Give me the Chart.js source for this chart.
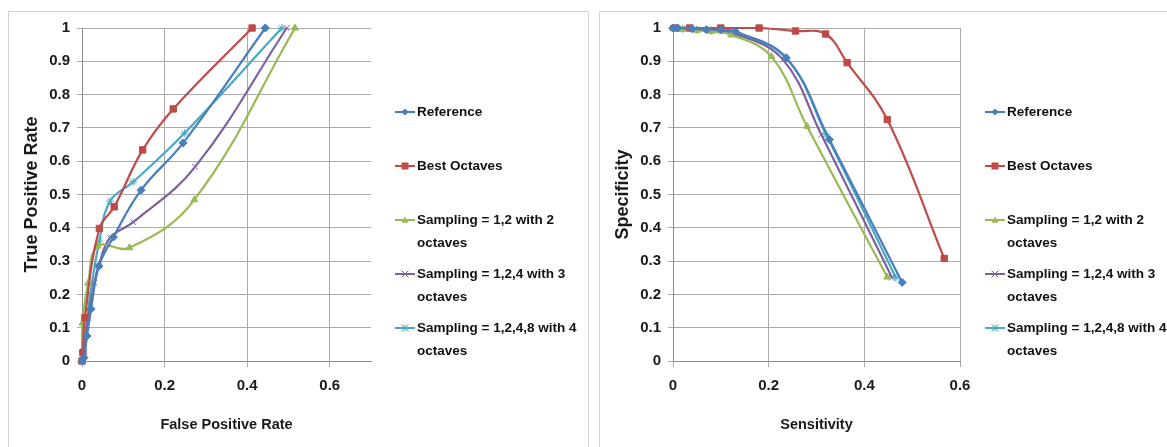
<!DOCTYPE html>
<html><head><meta charset="utf-8">
<script src="https://cdn.jsdelivr.net/npm/chart.js@4"></script>
<style>
html,body{margin:0;padding:0;background:#fff;width:1167px;height:447px;overflow:hidden;}
.box{position:absolute;box-sizing:border-box;border:1px solid #d4d4d4;background:#fff;}
canvas{position:absolute;}
</style></head><body>
<div class="box" style="left:8px;top:11px;width:581px;height:460px;"></div>
<div class="box" style="left:599px;top:11px;width:600px;height:460px;"></div>
<canvas id="c1" width="580" height="436" style="left:8px;top:11px"></canvas>
<canvas id="c2" width="568" height="436" style="left:599px;top:11px"></canvas>
<script>
// ---------- data ----------
const seriesNames = ['Reference', 'Best Octaves', 'Sampling = 1,2 with 2 octaves', 'Sampling = 1,2,4 with 3 octaves', 'Sampling = 1,2,4,8 with 4 octaves'];
const seriesColors = ['#4A7EBB', '#BE4B48', '#98B954', '#7D60A0', '#46AAC5'];
const seriesMarkers = ['rectRot', 'rect', 'triangle', 'crossRot', 'star'];

// Left chart: ROC (False Positive Rate vs True Positive Rate)
const rocRefFPR   = [0, 0.005, 0.012, 0.022, 0.041, 0.076, 0.143, 0.245, 0.444];
const rocRefTPR   = [0, 0.01, 0.075, 0.156, 0.285, 0.372, 0.513, 0.655, 1.0];
const rocBestFPR  = [0, 0.002, 0.007, 0.042, 0.078, 0.147, 0.221, 0.412];
const rocBestTPR  = [0, 0.025, 0.13, 0.398, 0.463, 0.634, 0.757, 1.0];
const rocS2FPR    = [0, 0.001, 0.015, 0.038, 0.115, 0.272, 0.516];
const rocS2TPR    = [0, 0.114, 0.234, 0.345, 0.34, 0.484, 1.0];
const rocS3FPR    = [0, 0.005, 0.015, 0.03, 0.04, 0.068, 0.124, 0.274, 0.496];
const rocS3TPR    = [0, 0.03, 0.13, 0.235, 0.285, 0.37, 0.417, 0.583, 1.0];
const rocS4FPR    = [0, 0.003, 0.01, 0.02, 0.042, 0.068, 0.124, 0.248, 0.484];
const rocS4TPR    = [0, 0.03, 0.1, 0.2, 0.36, 0.48, 0.538, 0.684, 1.0];
const rocXTicks   = [0, 0.2, 0.4, 0.6];
const rocYTicks   = [0, 0.1, 0.2, 0.3, 0.4, 0.5, 0.6, 0.7, 0.8, 0.9, 1];

// Right chart: Sensitivity vs Specificity
const ssRefSens  = [0, 0.01, 0.04, 0.07, 0.1, 0.13, 0.237, 0.327, 0.479];
const ssRefSpec  = [1, 1, 0.998, 0.995, 0.995, 0.99, 0.91, 0.665, 0.236];
const ssBestSens = [0.004, 0.035, 0.1, 0.18, 0.256, 0.319, 0.364, 0.448, 0.567];
const ssBestSpec = [1, 1, 1, 1, 0.991, 0.982, 0.896, 0.725, 0.308];
const ssS2Sens   = [0, 0.02, 0.05, 0.08, 0.123, 0.206, 0.28, 0.448];
const ssS2Spec   = [1, 0.995, 0.993, 0.99, 0.979, 0.914, 0.705, 0.252];
const ssS3Sens   = [0, 0.02, 0.06, 0.1, 0.13, 0.23, 0.31, 0.458];
const ssS3Spec   = [1, 0.998, 0.995, 0.99, 0.985, 0.905, 0.68, 0.25];
const ssS4Sens   = [0, 0.02, 0.05, 0.08, 0.12, 0.235, 0.32, 0.466];
const ssS4Spec   = [1, 0.998, 0.995, 0.992, 0.985, 0.912, 0.68, 0.25];
const ssXTicks   = [0, 0.2, 0.4, 0.6];
const ssYTicks   = [0, 0.1, 0.2, 0.3, 0.4, 0.5, 0.6, 0.7, 0.8, 0.9, 1];

// ---------- helpers ----------
const FONT = '"Liberation Sans", Arial, sans-serif';
function pts(xs, ys) { return xs.map((x, i) => ({x: x, y: ys[i]})); }
function mkDataset(i, xs, ys) {
  const c = seriesColors[i];
  const st = seriesMarkers[i];
  return {
    label: seriesNames[i], data: pts(xs, ys), showLine: true,
    borderColor: c, backgroundColor: c, borderWidth: 2.2,
    tension: 0.4, pointStyle: st,
    pointRadius: st === 'rect' ? 4.5 : 4,
    pointBorderColor: c, pointBackgroundColor: c,
    pointBorderWidth: 1,
    clip: 10
  };
}

function drawMarker(ctx, style, color, x, y, r) {
  ctx.save();
  ctx.fillStyle = color; ctx.strokeStyle = color; ctx.lineWidth = 1;
  ctx.beginPath();
  if (style === 'rectRot') {
    ctx.moveTo(x, y - r); ctx.lineTo(x + r, y); ctx.lineTo(x, y + r); ctx.lineTo(x - r, y); ctx.closePath(); ctx.fill();
  } else if (style === 'rect') {
    ctx.rect(x - r, y - r, 2 * r, 2 * r); ctx.fill();
  } else if (style === 'triangle') {
    ctx.moveTo(x, y - r); ctx.lineTo(x + r, y + r * 0.8); ctx.lineTo(x - r, y + r * 0.8); ctx.closePath(); ctx.fill();
  } else if (style === 'crossRot') {
    ctx.moveTo(x - r, y - r); ctx.lineTo(x + r, y + r); ctx.moveTo(x + r, y - r); ctx.lineTo(x - r, y + r); ctx.stroke();
  } else if (style === 'star') {
    ctx.moveTo(x - r, y - r); ctx.lineTo(x + r, y + r); ctx.moveTo(x + r, y - r); ctx.lineTo(x - r, y + r);
    ctx.moveTo(x, y - r); ctx.lineTo(x, y + r); ctx.stroke();
  }
  ctx.restore();
}

const sideLegend = {
  id: 'sideLegend',
  afterDraw(chart, args, opts) {
    const ctx = chart.ctx;
    ctx.save();
    ctx.font = 'bold 13.5px ' + FONT;
    ctx.textBaseline = 'middle';
    chart.data.datasets.forEach((ds, i) => {
      const y0 = opts.y + i * opts.step;
      const words = ds.label.split(' ');
      const lines = []; let cur = '';
      words.forEach(w => {
        const t = cur ? cur + ' ' + w : w;
        if (ctx.measureText(t).width > opts.maxWidth && cur) { lines.push(cur); cur = w; } else cur = t;
      });
      if (cur) lines.push(cur);
      ctx.strokeStyle = ds.borderColor; ctx.lineWidth = 2;
      ctx.beginPath(); ctx.moveTo(opts.x, y0); ctx.lineTo(opts.x + 20, y0); ctx.stroke();
      drawMarker(ctx, ds.pointStyle, ds.borderColor, opts.x + 10, y0, 3.5);
      ctx.fillStyle = '#111';
      lines.forEach((ln, k) => ctx.fillText(ln, opts.x + 22, y0 + k * opts.lineH));
    });
    ctx.restore();
  }
};

function makeOptions(xTitle, yTitle, xMax, xTicks, yTicks, padRight, legendX) {
  return {
    responsive: false, animation: false, devicePixelRatio: 1,
    layout: {padding: {top: 17, right: padRight, left: 0, bottom: 0}},
    plugins: {legend: {display: false}, tooltip: {enabled: false},
      sideLegend: {x: legendX, y: 101, step: 54, lineH: 23, maxWidth: 165}},
    scales: {
      x: {
        type: 'linear', min: 0, max: xMax,
        afterFit(s) { s.height = 86; },
        afterBuildTicks(s) { s.ticks = xTicks.map(v => ({value: v})); },
        grid: {color: '#ababab', lineWidth: 1, tickLength: 6, drawTicks: true},
        border: {color: '#8c8c8c', width: 1},
        ticks: {padding: 10, color: '#1a1a1a', font: {family: FONT, size: 15, weight: 'bold'},
          maxRotation: 0, callback: v => String(v)},
        title: {display: true, text: xTitle, color: '#1a1a1a',
          font: {family: FONT, size: 14.5, weight: 'bold'}, padding: {top: 0, bottom: 13}}
      },
      y: {
        type: 'linear', min: 0, max: 1,
        afterFit(s) { s.width = 74; },
        afterBuildTicks(s) { s.ticks = yTicks.map(v => ({value: v})); },
        grid: {color: '#ababab', lineWidth: 1, tickLength: 5, drawTicks: true},
        border: {color: '#8c8c8c', width: 1},
        ticks: {padding: 7, color: '#1a1a1a', font: {family: FONT, size: 15, weight: 'bold'},
          callback: v => String(Math.round(v * 10) / 10)},
        title: {display: true, text: yTitle, color: '#1a1a1a',
          font: {family: FONT, size: 18, weight: 'bold'}, padding: {top: 13, bottom: 0}}
      }
    }
  };
}

new Chart(document.getElementById('c1'), {
  type: 'scatter',
  data: {datasets: [
    mkDataset(0, rocRefFPR, rocRefTPR),
    mkDataset(1, rocBestFPR, rocBestTPR),
    mkDataset(2, rocS2FPR, rocS2TPR),
    mkDataset(3, rocS3FPR, rocS3TPR),
    mkDataset(4, rocS4FPR, rocS4TPR)
  ]},
  options: makeOptions('False Positive Rate', 'True Positive Rate', 0.7, rocXTicks, rocYTicks, 217, 387),
  plugins: [sideLegend]
});

new Chart(document.getElementById('c2'), {
  type: 'scatter',
  data: {datasets: [
    mkDataset(0, ssRefSens, ssRefSpec),
    mkDataset(1, ssBestSens, ssBestSpec),
    mkDataset(2, ssS2Sens, ssS2Spec),
    mkDataset(3, ssS3Sens, ssS3Spec),
    mkDataset(4, ssS4Sens, ssS4Spec)
  ]},
  options: makeOptions('Sensitivity', 'Specificity', 0.6, ssXTicks, ssYTicks, 207, 386),
  plugins: [sideLegend]
});
</script>
</body></html>
